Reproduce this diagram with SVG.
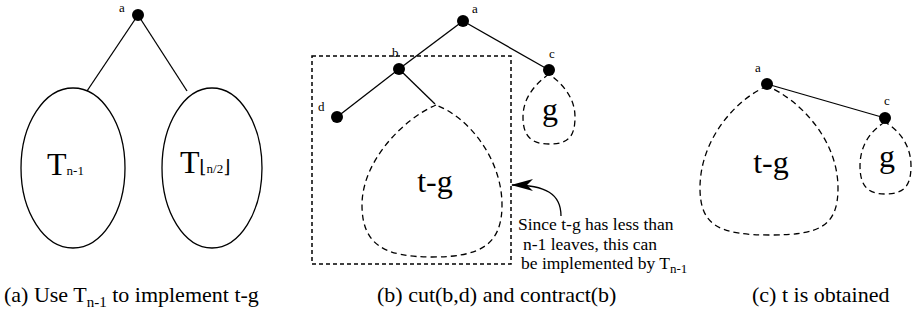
<svg xmlns="http://www.w3.org/2000/svg" width="912" height="320" viewBox="0 0 912 320" font-family="'Liberation Serif', 'DejaVu Serif', serif">
<defs>
<style>
.edge{stroke:#000;stroke-width:1.3;fill:none}
.solid{stroke:#000;stroke-width:1.3;fill:none}
.blob{stroke:#000;stroke-width:1.3;fill:none;stroke-dasharray:6,4}
.box{stroke:#000;stroke-width:1.5;fill:none;stroke-dasharray:4,3}
.dot{fill:#000}
text{font-family:'Liberation Serif','DejaVu Serif',serif;fill:#000}
.lbl{font-size:13px}
.big{font-size:32px}
.sub{font-size:13px}
.csub{font-size:15px}
.cap{font-size:22px}
.note{font-size:17.5px}
.br{font-family:'DejaVu Serif',serif;font-size:18px}
</style>
<marker id="arr" viewBox="0 0 22 12" refX="21" refY="6" markerUnits="userSpaceOnUse" markerWidth="22" markerHeight="12" orient="auto">
<path d="M0,0 L22,6 L0,12 L6,6 Z" fill="#000"/>
</marker>
</defs>

<g id="connectors">
<line class="edge" x1="138" y1="15" x2="87" y2="91"/>
<line class="edge" x1="138" y1="15" x2="187" y2="91"/>
<line class="edge" x1="463" y1="21" x2="399" y2="69"/>
<line class="edge" x1="463" y1="21" x2="549" y2="70"/>
<line class="edge" x1="399" y1="69" x2="337" y2="117"/>
<line class="edge" x1="399" y1="69" x2="435" y2="104"/>
<line class="edge" x1="767" y1="84" x2="885" y2="118"/>
<path class="edge" d="M561,216 C561,194 546,185 512,185" marker-end="url(#arr)"/>
</g>

<!-- Panel (a) -->
<g id="a1">
<circle class="dot" cx="138" cy="15" r="6"/>
<text class="lbl" x="119" y="12">a</text>
</g>
<g id="Tn1">
<ellipse class="solid" cx="73" cy="168" rx="52" ry="80"/>
<text x="47" y="175"><tspan class="big">T</tspan><tspan class="sub">n-1</tspan></text>
</g>
<g id="Tn2">
<ellipse class="solid" cx="212" cy="168" rx="50" ry="80"/>
<text x="180" y="173"><tspan class="big">T</tspan><tspan class="br">⌊</tspan><tspan class="sub">n/2</tspan><tspan class="br">⌋</tspan></text>
</g>
<g id="capA">
<text class="cap" x="4" y="302">(a) Use T<tspan class="csub" dy="5">n-1</tspan><tspan dy="-5"> to implement t-g</tspan></text>
</g>

<!-- Panel (b) -->
<g id="box">
<rect class="box" x="312" y="56" width="199" height="208"/>
</g>
<g id="b_a">
<circle class="dot" cx="463" cy="21" r="6"/>
<text class="lbl" x="472" y="13">a</text>
</g>
<g id="b_b">
<circle class="dot" cx="399" cy="69" r="6"/>
<text class="lbl" x="392" y="57">b</text>
</g>
<g id="b_c">
<circle class="dot" cx="549" cy="70" r="6"/>
<text class="lbl" x="549" y="58">c</text>
</g>
<g id="b_d">
<circle class="dot" cx="337" cy="117" r="6"/>
<text class="lbl" x="318" y="111">d</text>
</g>
<g id="b_tg">
<path class="blob" d="M436,105 C405,118 362,160 362,205 C362,245 385,257 432,257 C480,257 502,245 502,205 C502,160 470,118 436,105 Z"/>
<text class="big" x="435" y="192" text-anchor="middle">t-g</text>
</g>
<g id="b_g">
<path class="blob" d="M549,74 C535,84 523,98 523,117 C523,137 532,144 549,144 C568,144 575,137 575,117 C575,98 563,84 549,74 Z"/>
<text class="big" x="550" y="120" text-anchor="middle">g</text>
</g>
<g id="note">
<text class="note" x="518" y="230">Since t-g has less than</text>
<text class="note" x="523" y="249.5">n-1 leaves, this can</text>
<text class="note" x="521" y="269">be implemented by T<tspan class="sub" dy="4">n-1</tspan></text>
</g>
<g id="capB">
<text class="cap" x="377" y="302">(b) cut(b,d) and contract(b)</text>
</g>

<!-- Panel (c) -->
<g id="c_a">
<circle class="dot" cx="767" cy="84" r="6"/>
<text class="lbl" x="755" y="72">a</text>
</g>
<g id="c_c">
<circle class="dot" cx="885" cy="118" r="6"/>
<text class="lbl" x="884" y="105">c</text>
</g>
<g id="c_tg">
<path class="blob" d="M767,86 C735,100 700,140 700,188 C700,226 720,235 770,235 C820,235 838,226 838,188 C838,140 800,100 767,86 Z"/>
<text class="big" x="771" y="173" text-anchor="middle">t-g</text>
</g>
<g id="c_g">
<path class="blob" d="M885,122 C870,131 860,146 860,166 C860,186 868,194 885,194 C904,194 911,186 911,166 C911,146 900,131 885,122 Z"/>
<text class="big" x="887" y="167" text-anchor="middle">g</text>
</g>
<g id="capC">
<text class="cap" x="752" y="302">(c) t is obtained</text>
</g>
</svg>
